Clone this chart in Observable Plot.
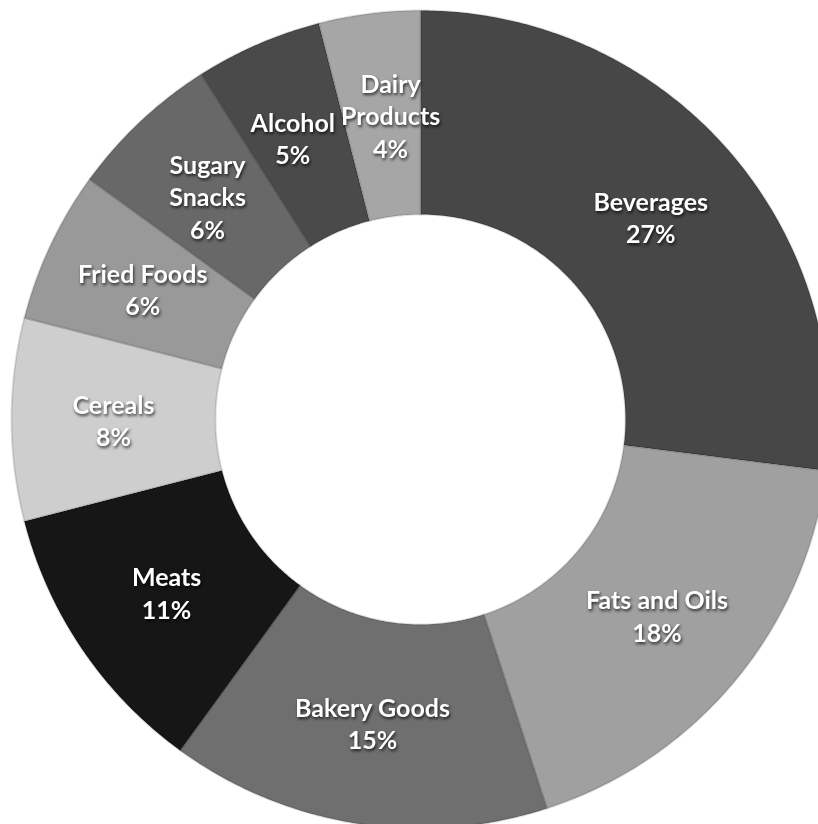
<!DOCTYPE html>
<html>
<head>
<meta charset="utf-8">
<script src="https://cdn.jsdelivr.net/npm/d3@7"></script>
<script src="https://cdn.jsdelivr.net/npm/@observablehq/plot@0.6"></script>
<style>
  html, body { margin: 0; padding: 0; background: #ffffff; }
  #chart svg text { filter: drop-shadow(1.5px 2px 1.5px rgba(0,0,0,0.7)); }
</style>
</head>
<body>
<div id="chart"></div>
<script>
// Data
const categories = ["Beverages", "Fats and Oils", "Bakery Goods", "Meats", "Cereals", "Fried Foods", "Sugary Snacks", "Alcohol", "Dairy Products"];
const labels = ["Beverages", "Fats and Oils", "Bakery Goods", "Meats", "Cereals", "Fried Foods", "Sugary\nSnacks", "Alcohol", "Dairy\nProducts"];
const values = [27, 18, 15, 11, 8, 6, 6, 5, 4];
const colors = ["#474747", "#a0a0a0", "#6f6f6f", "#161616", "#cecece", "#999999", "#686868", "#4a4a4a", "#a6a6a6"];

const W = 818, H = 824;
const cx = 420, cy = 419;          // centre in pixels
const rOuter = 409, rInner = 205, rLabel = 307;
const fontSize = 25, lineH = 1.3;

// Build slice polygons from the data (angles clockwise from 12 o'clock)
const total = d3.sum(values);
const slices = [];
const labelRows = [];
let acc = 0;
categories.forEach((cat, i) => {
  const a0 = acc / total * 2 * Math.PI;
  acc += values[i];
  const a1 = acc / total * 2 * Math.PI;
  const n = Math.max(2, Math.ceil((a1 - a0) / (Math.PI / 360)));
  for (let k = 0; k <= n; k++) {
    const a = a0 + (a1 - a0) * k / n;
    slices.push({cat, x: Math.sin(a) * rOuter, y: Math.cos(a) * rOuter});
  }
  for (let k = n; k >= 0; k--) {
    const a = a0 + (a1 - a0) * k / n;
    slices.push({cat, x: Math.sin(a) * rInner, y: Math.cos(a) * rInner});
  }
  const am = (a0 + a1) / 2;
  const text = labels[i] + "\n" + values[i] + "%";
  const lines = text.split("\n");
  labelRows.push({
    cat, text,
    x: Math.sin(am) * rLabel, y: Math.cos(am) * rLabel,
    w: d3.max(lines, l => l.length) * fontSize * 0.5,
    h: lines.length * fontSize * lineH
  });
});

// Simple horizontal de-overlap of label boxes (like the spreadsheet's label placement)
for (let iter = 0; iter < 20; iter++) {
  for (let a = 0; a < labelRows.length; a++) {
    for (let b = a + 1; b < labelRows.length; b++) {
      const A = labelRows[a], B = labelRows[b];
      const ox = (A.w + B.w) / 2 + 4 - Math.abs(A.x - B.x);
      const oy = (A.h + B.h) / 2 - 8 - Math.abs(A.y - B.y);
      if (ox > 0 && oy > 0) {
        const s = A.x < B.x ? -1 : 1;
        A.x += s * ox / 2;
        B.x -= s * ox / 2;
      }
    }
  }
}

const chart = Plot.plot({
  width: W,
  height: H,
  margin: 0,
  style: {background: "#ffffff"},
  x: {domain: [-cx, W - cx], range: [0, W], axis: null},
  y: {domain: [-(H - cy), cy], range: [H, 0], axis: null},
  color: {domain: categories, range: colors},
  marks: [
    Plot.line(slices, {
      x: "x", y: "y", z: "cat",
      fill: "cat",
      stroke: "#000000", strokeOpacity: 0.12, strokeWidth: 2,
      curve: "linear-closed"
    }),
    Plot.text(labelRows, {
      x: "x", y: "y", text: "text",
      fill: "#ffffff",
      fontSize: fontSize,
      fontWeight: "bold",
      fontFamily: "Lato, 'Open Sans', sans-serif",
      lineHeight: lineH,
      textAnchor: "middle",
      lineAnchor: "middle"
    })
  ]
});
document.getElementById("chart").appendChild(chart);
</script>
</body>
</html>
